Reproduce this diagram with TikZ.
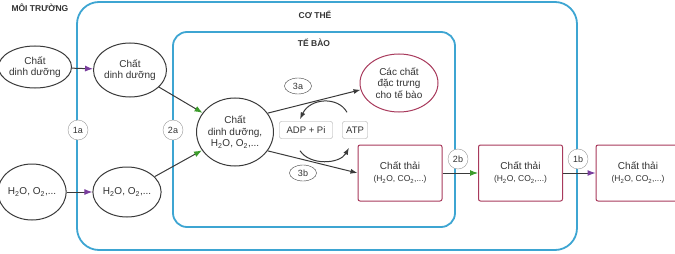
\documentclass[tikz,border=0pt]{standalone}
\usepackage{fontspec}
\setmainfont{Liberation Sans}
\usetikzlibrary{shapes.geometric,arrows.meta}

\definecolor{bodyblue}{HTML}{3DA5D2}
\definecolor{wastered}{HTML}{A83A5C}
\definecolor{inpurple}{HTML}{7A3E9D}
\definecolor{ingreen}{HTML}{3C9B2B}
\definecolor{linegray}{HTML}{3A3A3A}
\definecolor{textgray}{HTML}{333333}

\tikzset{
  food/.style={ellipse, draw=linegray, line width=1pt, fill=white, inner sep=0pt, align=center,
    text=textgray, font=\fontsize{10}{11.5}\selectfont},
  waste/.style={rectangle, rounded corners=2pt, draw=wastered, line width=1pt, fill=white, align=center,
    minimum width=84pt, minimum height=56pt, text=textgray, font=\fontsize{10}{12}\selectfont},
  energy/.style={rectangle, rounded corners=2pt, draw=gray!70, fill=white, minimum height=17pt,
    inner sep=1pt, text=textgray, font=\fontsize{9.5}{11}\selectfont},
  tag/.style={circle, draw=gray!80, fill=white, inner sep=0pt, minimum size=20pt,
    text=textgray, font=\fontsize{9}{10}\selectfont},
  steptag/.style={ellipse, draw=linegray, fill=white, inner sep=0pt, minimum width=27pt,
    minimum height=16pt, text=textgray, font=\fontsize{9}{10}\selectfont},
  header/.style={text=textgray, font=\fontsize{8.5}{9}\bfseries\selectfont},
  inarrow/.style={linegray, line width=1pt, -{Latex[length=8pt,width=6pt,color=#1]}},
  outarrow/.style={linegray, line width=1pt, -{Latex[length=7pt,width=5pt]}}
}
\newcommand{\gasmix}{H\textsubscript{2}O, O\textsubscript{2},...}
\newcommand{\wastemix}{{\fontsize{8.5}{10}\selectfont(H\textsubscript{2}O, CO\textsubscript{2},...)}}

\begin{document}
\begin{tikzpicture}[x=1pt, y=-1pt]
  \useasboundingbox (0,0) rectangle (675,254);
  \clip (0,0) rectangle (675,254);

  % body and cell outlines
  \draw[bodyblue, line width=1.8pt, rounded corners=22pt] (77,2) rectangle (577,250);
  \draw[bodyblue, line width=1.8pt, rounded corners=14pt] (173,32) rectangle (455,227);

  \node[header, anchor=west] (envlabel) at (8,8) {MÔI TRƯỜNG};
  \node[header] (bodylabel) at (315,15) {CƠ THỂ};
  \node[header] (celllabel) at (314,43) {TẾ BÀO};

  % substances
  \node[food, minimum width=66pt, minimum height=42pt] (envfood) at (35,67) {Chất\\dinh dưỡng};
  \node[food, minimum width=66pt, minimum height=54pt] (bodyfood) at (130,70) {Chất\\dinh dưỡng};
  \node[food, minimum width=60pt, minimum height=56pt] (envgas) at (32,192) {\gasmix};
  \node[food, minimum width=65pt, minimum height=50pt] (bodygas) at (127,192) {\gasmix};
  \node[food, minimum width=76pt, minimum height=68pt] (cellmix) at (235,132) {Chất\\dinh dưỡng,\\\gasmix};
  \node[food, draw=wastered, minimum width=78pt, minimum height=58pt] (special) at (399,83) {Các chất\\đặc trưng\\cho tế bào};

  \node[energy, minimum width=53pt] (adp) at (306,130) {ADP + Pi};
  \node[energy, minimum width=25pt] (atp) at (355,130) {ATP};

  \node[waste] (cellwaste) at (400,173) {Chất thải\\\wastemix};
  \node[waste] (bodywaste) at (520.5,173) {Chất thải\\\wastemix};
  \node[waste] (outwaste) at (638,173) {Chất thải\\\wastemix};

  % transport
  \draw[inarrow=inpurple] (envfood) -- (bodyfood);
  \draw[inarrow=inpurple] (envgas) -- (bodygas);
  \draw[inarrow=ingreen] (bodyfood) -- (cellmix);
  \draw[inarrow=ingreen] (bodygas) -- (cellmix);
  \draw[inarrow=ingreen] (cellwaste) -- (bodywaste);
  \draw[inarrow=inpurple] (bodywaste) -- (outwaste);

  % metabolism
  \draw[outarrow] (cellmix.30) -- (special.190);
  \draw[outarrow] (cellmix.-30) -- (cellwaste.west);
  \draw[outarrow] ([xshift=-8pt,yshift=9pt]atp.north) .. controls (338,96) and (310,98) .. ([xshift=-6pt,yshift=2pt]adp.north);
  \draw[outarrow] ([xshift=-6pt,yshift=-12pt]adp.south) .. controls (310,166) and (340,164) .. ([xshift=-6pt,yshift=-9pt]atp.south);

  \node[steptag] (s3a) at (298,86) {3a};
  \node[steptag] (s3b) at (303,173) {3b};

  \node[tag] (t1a) at (78,130) {1a};
  \node[tag] (t2a) at (173,130) {2a};
  \node[tag] (t2b) at (458,159) {2b};
  \node[tag] (t1b) at (578,159) {1b};
\end{tikzpicture}
\end{document}
